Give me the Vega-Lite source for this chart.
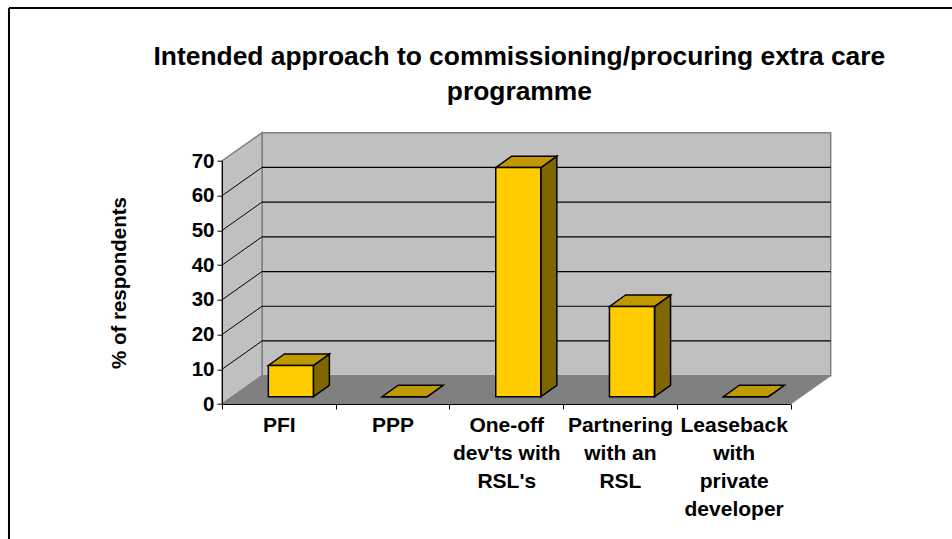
{
 "$schema":"https://vega.github.io/schema/vega-lite/v6.json",
 "width":608.7,"height":271.3,
 "autosize":{"type":"none"},
 "padding":{"left":222,"top":132.7,"right":121.3,"bottom":135},
 "background":"white",
 "config":{"font":"Liberation Sans","view":{"stroke":null}},
 "title":{"text":["Intended approach to commissioning/procuring extra care","programme"],"fontSize":26.4,"fontWeight":"bold","font":"Liberation Sans","color":"black","lineHeight":35,"anchor":"middle","frame":"group","dx":-7,"offset":-98},
 "datasets":{
  "bars":[
   {"category":"PFI","value":9},
   {"category":"PPP","value":0},
   {"category":"One-off\ndev'ts with\nRSL's","value":66},
   {"category":"Partnering\nwith an\nRSL","value":26},
   {"category":"Leaseback\nwith\nprivate\ndeveloper","value":0}
  ],
  "depth":[{"depth":0},{"depth":1}],
  "grid":[{"tick":10},{"tick":20},{"tick":30},{"tick":40},{"tick":50},{"tick":60}]
 },
 "resolve":{"scale":{"x":"independent","y":"shared"},"axis":{"x":"independent","y":"independent"}},
 "layer":[
  {"mark":{"type":"rect","fill":"#C0C0C0","stroke":"#808080","strokeWidth":1.5},
   "data":{"values":[{"wall":"back"}]},
   "encoding":{
    "x":{"datum":0.352,"type":"quantitative","axis":null,"scale":{"domain":[0,5.352],"nice":false,"zero":false}},
    "x2":{"datum":5.352},
    "y":{"datum":8.16,"type":"quantitative","axis":null,"scale":{"domain":[0,70],"range":[271.3,28.3],"nice":false,"zero":false}},
    "y2":{"datum":78.16}}},
  {"mark":{"type":"area","fill":"#C0C0C0","stroke":"#808080","strokeWidth":1.5,"opacity":1,"clip":false},
   "data":{"name":"depth"},
   "transform":[{"calculate":"datum.depth*0.352","as":"px"},{"calculate":"datum.depth*8.16","as":"low"},{"calculate":"70+datum.depth*8.16","as":"high"}],
   "encoding":{
    "x":{"field":"px","type":"quantitative","axis":null,"scale":{"domain":[0,5.352],"nice":false,"zero":false}},
    "y":{"field":"low","type":"quantitative","axis":null,"stack":null},
    "y2":{"field":"high"}}},
  {"mark":{"type":"area","orient":"horizontal","fill":"#808080","stroke":"#808080","strokeWidth":1,"opacity":1},
   "data":{"name":"depth"},
   "transform":[{"calculate":"datum.depth*0.352","as":"px"},{"calculate":"5+datum.depth*0.352","as":"px2"},{"calculate":"datum.depth*8.16","as":"low"}],
   "encoding":{
    "y":{"field":"low","type":"quantitative","axis":null},
    "x":{"field":"px","type":"quantitative","axis":null,"stack":null,"scale":{"domain":[0,5.352],"nice":false,"zero":false}},
    "x2":{"field":"px2"}}},
  {"mark":{"type":"rule","color":"black","strokeWidth":1.2},
   "data":{"name":"grid"},
   "transform":[{"calculate":"datum.tick+8.16","as":"back"}],
   "encoding":{
    "x":{"datum":0.352,"type":"quantitative","axis":null,"scale":{"domain":[0,5.352],"nice":false,"zero":false}},
    "x2":{"datum":5.352},
    "y":{"field":"back","type":"quantitative","axis":null}}},
  {"mark":{"type":"rule","color":"black","strokeWidth":1},
   "data":{"name":"grid"},
   "transform":[{"calculate":"datum.tick+8.16","as":"back"}],
   "encoding":{
    "x":{"datum":0,"type":"quantitative","axis":null,"scale":{"domain":[0,5.352],"nice":false,"zero":false}},
    "x2":{"datum":0.352},
    "y":{"field":"tick","type":"quantitative","axis":null},
    "y2":{"field":"back"}}},
  {"mark":{"type":"area","fill":"#806600","stroke":"black","strokeWidth":1.5,"opacity":1},
   "data":{"name":"bars"},
   "transform":[{"window":[{"op":"row_number","as":"n"}]},{"calculate":"[0,1]","as":"d"},{"flatten":["d"]},
    {"calculate":"datum.n-1+0.804+0.14*datum.d","as":"px"},{"calculate":"2.1+3.3*datum.d","as":"low"},{"calculate":"datum.value+2.1+3.3*datum.d","as":"high"}],
   "encoding":{
    "detail":{"field":"category"},
    "x":{"field":"px","type":"quantitative","axis":null,"scale":{"domain":[0,5.352],"nice":false,"zero":false}},
    "y":{"field":"low","type":"quantitative","axis":null,"stack":null},
    "y2":{"field":"high"}}},
  {"mark":{"type":"area","orient":"horizontal","fill":"#C09900","stroke":"black","strokeWidth":1.5,"opacity":1},
   "data":{"name":"bars"},
   "transform":[{"window":[{"op":"row_number","as":"n"}]},{"calculate":"[0,1]","as":"d"},{"flatten":["d"]},
    {"calculate":"datum.n-1+0.408+0.14*datum.d","as":"px"},{"calculate":"datum.n-1+0.804+0.14*datum.d","as":"px2"},{"calculate":"datum.value+2.1+3.3*datum.d","as":"high"}],
   "encoding":{
    "detail":{"field":"category"},
    "y":{"field":"high","type":"quantitative","axis":null},
    "x":{"field":"px","type":"quantitative","axis":null,"stack":null,"scale":{"domain":[0,5.352],"nice":false,"zero":false}},
    "x2":{"field":"px2"}}},
  {"mark":{"type":"bar","width":45,"xOffset":12,"yOffset":-7.3,"y2Offset":-7.3,"fill":"#FFCC00","stroke":"black","strokeWidth":1.5},
   "data":{"name":"bars"},
   "encoding":{
    "x":{"field":"category","type":"nominal","sort":null,"title":null,
     "scale":{"type":"band","range":[0,568.5],"paddingInner":0,"paddingOuter":0},
     "axis":{"tickBand":"extent","labelAngle":0,"labelAlign":"center","labelBaseline":"top","labelFontSize":21,"labelFontWeight":"bold","labelColor":"black","labelLimit":400,"labelOverlap":false,"labelPadding":5,"labelLineHeight":28,"labelExpr":"split(datum.label,'\\n')","tickSize":5,"tickColor":"black","domainColor":"black","tickWidth":1,"domainWidth":1,"zindex":1}},
    "y":{"field":"value","type":"quantitative","stack":null,
     "scale":{"domain":[0,70],"range":[271.3,28.3],"nice":false,"zero":false},
     "axis":{"title":"% of respondents","titleFontSize":20.5,"titleFontWeight":"bold","titleColor":"black","titleX":-93,"values":[0,10,20,30,40,50,60,70],"grid":false,"labelFontSize":20.5,"labelFontWeight":"bold","labelColor":"black","labelPadding":3,"tickSize":5,"tickColor":"black","domainColor":"black","zindex":1}},
    "y2":{"datum":0}}},
  {"mark":{"type":"rule","color":"black","strokeWidth":2,"clip":false},
   "data":{"values":[{"frame":"top"}]},
   "encoding":{
    "x":{"datum":-1.873,"type":"quantitative","axis":null,"scale":{"domain":[0,5.352],"nice":false,"zero":false}},
    "x2":{"datum":6.42},
    "y":{"datum":114.1,"type":"quantitative","axis":null}}},
  {"mark":{"type":"rule","color":"black","strokeWidth":2,"clip":false},
   "data":{"values":[{"frame":"left"}]},
   "encoding":{
    "x":{"datum":-1.873,"type":"quantitative","axis":null,"scale":{"domain":[0,5.352],"nice":false,"zero":false}},
    "y":{"datum":114.1,"type":"quantitative","axis":null},
    "y2":{"datum":-38.9}}}
 ]
}
